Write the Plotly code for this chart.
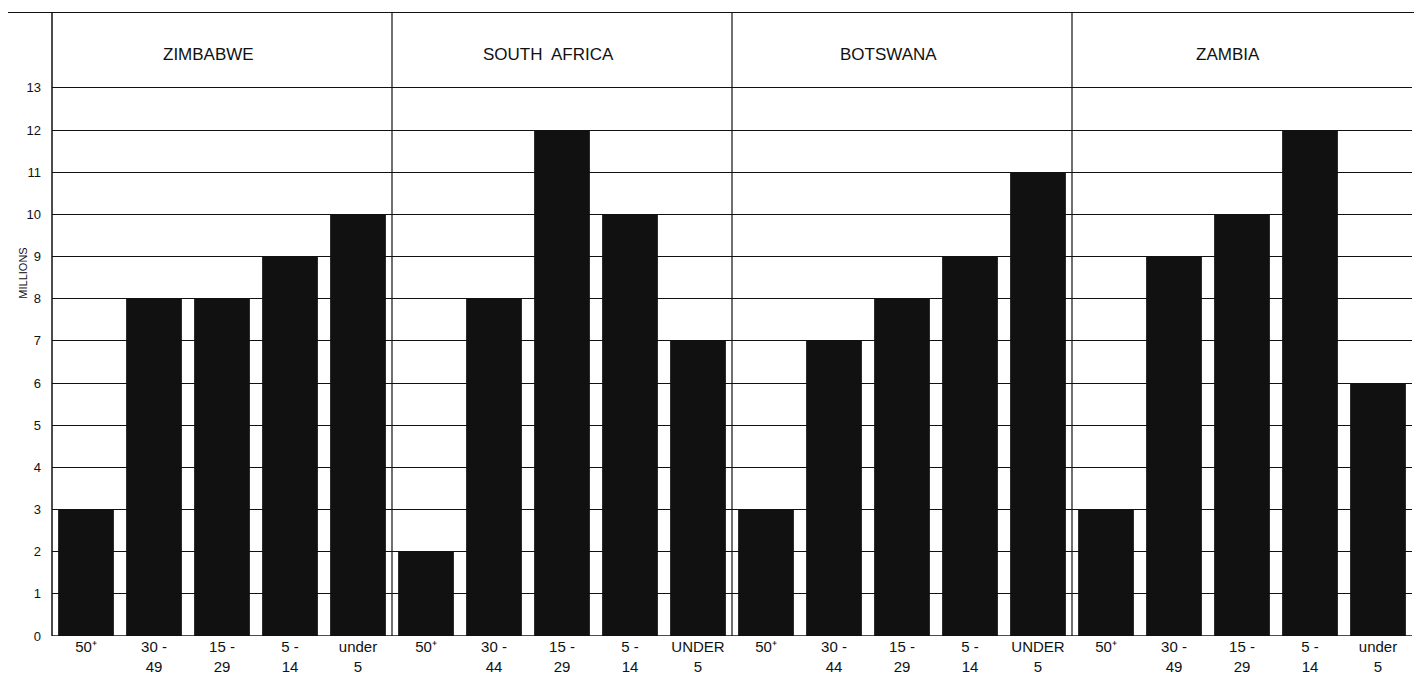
import plotly.graph_objects as go

# ---- data ----
countries = ["ZIMBABWE", "SOUTH  AFRICA", "BOTSWANA", "ZAMBIA"]
age_labels = [
    ["50⁺", "30 -<br>49", "15 -<br>29", "5 -<br>14", "under<br>5"],
    ["50⁺", "30 -<br>44", "15 -<br>29", "5 -<br>14", "UNDER<br>5"],
    ["50⁺", "30 -<br>44", "15 -<br>29", "5 -<br>14", "UNDER<br>5"],
    ["50⁺", "30 -<br>49", "15 -<br>29", "5 -<br>14", "under<br>5"],
]
zimbabwe = [3, 8, 8, 9, 10]
south_africa = [2, 8, 12, 10, 7]
botswana = [3, 7, 8, 9, 11]
zambia = [3, 9, 10, 12, 6]
y_ticks = list(range(0, 14))

values = zimbabwe + south_africa + botswana + zambia
ticktext = [t for grp in age_labels for t in grp]
xs = list(range(len(values)))

INK = "#111111"
FONT = "Liberation Sans"

fig = go.Figure()
fig.add_trace(go.Bar(x=xs, y=values, width=0.82, marker=dict(color=INK, line=dict(width=0)),
                     showlegend=False))

# layout lines: header boxes and group dividers
shapes = []
ytop = 14.8
shapes.append(dict(type="line", xref="paper", yref="y", x0=-0.04, x1=1.01, y0=ytop, y1=ytop,
                   line=dict(color=INK, width=2)))
shapes.append(dict(type="line", xref="paper", yref="y", x0=0, x1=0, y0=0, y1=ytop,
                   line=dict(color=INK, width=1.5)))
for g in range(1, len(countries)):
    xd = g * 5 - 0.5
    shapes.append(dict(type="line", xref="x", yref="y", x0=xd, x1=xd, y0=0, y1=ytop,
                       line=dict(color=INK, width=1.2)))
shapes.append(dict(type="line", xref="paper", yref="y", x0=0, x1=1, y0=0, y1=0,
                   line=dict(color=INK, width=1.5)))

annotations = []
for g, name in enumerate(countries):
    annotations.append(dict(x=g * 5 + 1.8, y=13.8, xref="x", yref="y", text=name,
                            showarrow=False, font=dict(family=FONT, size=17, color=INK)))
annotations.append(dict(x=-0.027, y=8.6, xref="paper", yref="y", text="MILLIONS",
                        textangle=-90, showarrow=False,
                        font=dict(family=FONT, size=11, color=INK)))

# page body adds an 8px offset, so the figure is sized to the visible area
fig.update_layout(
    width=1414, height=681,
    margin=dict(l=44, r=10, t=4, b=53),
    paper_bgcolor="white", plot_bgcolor="white",
    bargap=0.18,
    shapes=shapes,
    annotations=annotations,
    xaxis=dict(tickmode="array", tickvals=xs, ticktext=ticktext, range=[-0.5, 19.5],
               showgrid=False, zeroline=False, showline=False, ticks="", automargin=False,
               tickfont=dict(family=FONT, size=15, color=INK)),
    yaxis=dict(tickmode="array", tickvals=y_ticks, range=[0, ytop],
               showgrid=True, gridcolor=INK, gridwidth=1.3, zeroline=False,
               showline=False, ticks="", ticklabelstandoff=10, automargin=False,
               tickfont=dict(family=FONT, size=13, color=INK)),
)

fig.write_html("out.html")
